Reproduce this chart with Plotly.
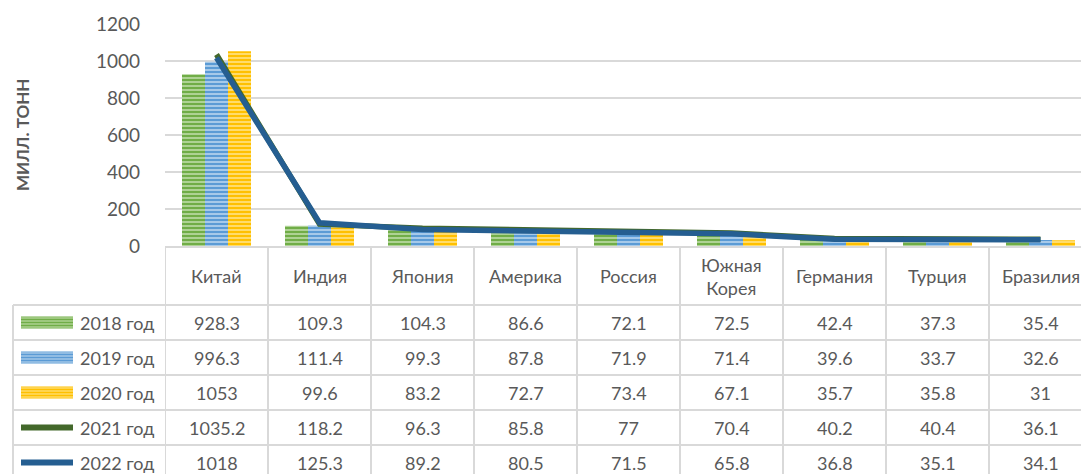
import plotly.graph_objects as go

# --- data -------------------------------------------------------------
countries = ["Китай", "Индия", "Япония", "Америка", "Россия",
             "Южная<br>Корея", "Германия", "Турция", "Бразилия"]
series_names = ["2018 год", "2019 год", "2020 год", "2021 год", "2022 год"]
v2018 = [928.3, 109.3, 104.3, 86.6, 72.1, 72.5, 42.4, 37.3, 35.4]
v2019 = [996.3, 111.4, 99.3, 87.8, 71.9, 71.4, 39.6, 33.7, 32.6]
v2020 = [1053, 99.6, 83.2, 72.7, 73.4, 67.1, 35.7, 35.8, 31]
v2021 = [1035.2, 118.2, 96.3, 85.8, 77, 70.4, 40.2, 40.4, 36.1]
v2022 = [1018, 125.3, 89.2, 80.5, 71.5, 65.8, 36.8, 35.1, 34.1]
y_ticks = [0, 200, 400, 600, 800, 1000, 1200]
y_title = "МИЛЛ. ТОНН"

# --- styling ----------------------------------------------------------
W, H = 1081, 474
L, T, B = 165, 24, 246          # plot area (pixels)
COL_W = 103                     # width of one category column
FONT = "Lato"
TXT = "#595959"
GRID = "#D9D9D9"

bar_styles = [  # base colour, stripe colour
    ("#70AD47", "#C9E3B6"),
    ("#5B9BD5", "#C6DDF2"),
    ("#FFC000", "#FFE89A"),
]
line_colors = ["#43682B", "#255E91"]


def py(p):
    """pixel row -> paper y"""
    return (B - p) / (B - T)


def px(p):
    """pixel column -> paper x"""
    return (p - L) / (W - L)


fig = go.Figure()

for name, vals, (base, stripe) in zip(series_names[:3], [v2018, v2019, v2020], bar_styles):
    fig.add_trace(go.Bar(
        x=countries, y=vals, name=name,
        marker=dict(color=base, line=dict(width=0),
                    pattern=dict(shape="-", fillmode="replace", bgcolor=base,
                                 fgcolor=stripe, size=4, solidity=0.35)),
    ))

for name, vals, col in zip(series_names[3:], [v2021, v2022], line_colors):
    fig.add_trace(go.Scatter(
        x=countries, y=vals, name=name, mode="lines",
        line=dict(color=col, width=5.5),
    ))

shapes = []
annotations = []


def label(x, y, text, xref="paper", xanchor="center", size=18, **kw):
    annotations.append(dict(xref=xref, yref="paper", x=x, y=y, text=text,
                            xanchor=xanchor, yanchor="middle", showarrow=False,
                            font=dict(family=FONT, size=size, color=TXT), **kw))


# table grid
row_edges = [305, 340, 375, 410, 445]
for r in row_edges:
    shapes.append(dict(type="line", xref="paper", yref="paper",
                       x0=px(13), x1=px(W + 5), y0=py(r), y1=py(r),
                       line=dict(color=GRID, width=2)))
for k in range(len(countries)):
    shapes.append(dict(type="line", xref="x", yref="paper",
                       x0=k - 0.5, x1=k - 0.5, y0=py(B), y1=py(H + 10),
                       line=dict(color=GRID, width=2)))
shapes.append(dict(type="line", xref="paper", yref="paper",
                   x0=px(13), x1=px(13), y0=py(305), y1=py(H + 10),
                   line=dict(color=GRID, width=2)))

# category header row
for k, c in enumerate(countries):
    label(k, py(276), c, xref="x")

# data rows with legend keys
all_vals = [v2018, v2019, v2020, v2021, v2022]
row_centers = [322.5, 357.5, 392.5, 427.5, 462.5]
for i, (name, vals, yc) in enumerate(zip(series_names, all_vals, row_centers)):
    for k, v in enumerate(vals):
        label(k, py(yc), f"{v:g}", xref="x")
    label(px(78), py(yc), name, xanchor="left")
    if i < 3:
        base, stripe = bar_styles[i]
        shapes.append(dict(type="rect", xref="paper", yref="paper",
                           x0=px(21), x1=px(73), y0=py(yc - 6), y1=py(yc + 6),
                           fillcolor=base, line=dict(width=0)))
        for s in range(-5, 6, 3):
            shapes.append(dict(type="rect", xref="paper", yref="paper",
                               x0=px(21), x1=px(73),
                               y0=py(yc + s), y1=py(yc + s + 1),
                               fillcolor=stripe, line=dict(width=0)))
    else:
        shapes.append(dict(type="line", xref="paper", yref="paper",
                           x0=px(21), x1=px(73), y0=py(yc), y1=py(yc),
                           line=dict(color=line_colors[i - 3], width=6)))

# y-axis title
label(px(22), 0.5, f"<b>{y_title}</b>", size=17, textangle=-90)

fig.update_layout(
    width=W, height=H,
    margin=dict(l=L, r=0, t=T, b=H - B, pad=0),
    paper_bgcolor="white", plot_bgcolor="white",
    barmode="group", bargap=0.33, bargroupgap=0,
    showlegend=False,
    font=dict(family=FONT, color=TXT),
    xaxis=dict(range=[-0.5, -0.5 + (W - L) / COL_W], showticklabels=False,
               showgrid=False, showline=True, linecolor=GRID, linewidth=2,
               ticks="", zeroline=False),
    yaxis=dict(range=[0, 1200], tickvals=y_ticks, showgrid=True,
               gridcolor=GRID, gridwidth=1.5, zeroline=False, showline=False,
               ticks="", ticklabelstandoff=24,
               tickfont=dict(family=FONT, size=19, color=TXT)),
    shapes=shapes, annotations=annotations,
)

fig.write_html("out.html")
